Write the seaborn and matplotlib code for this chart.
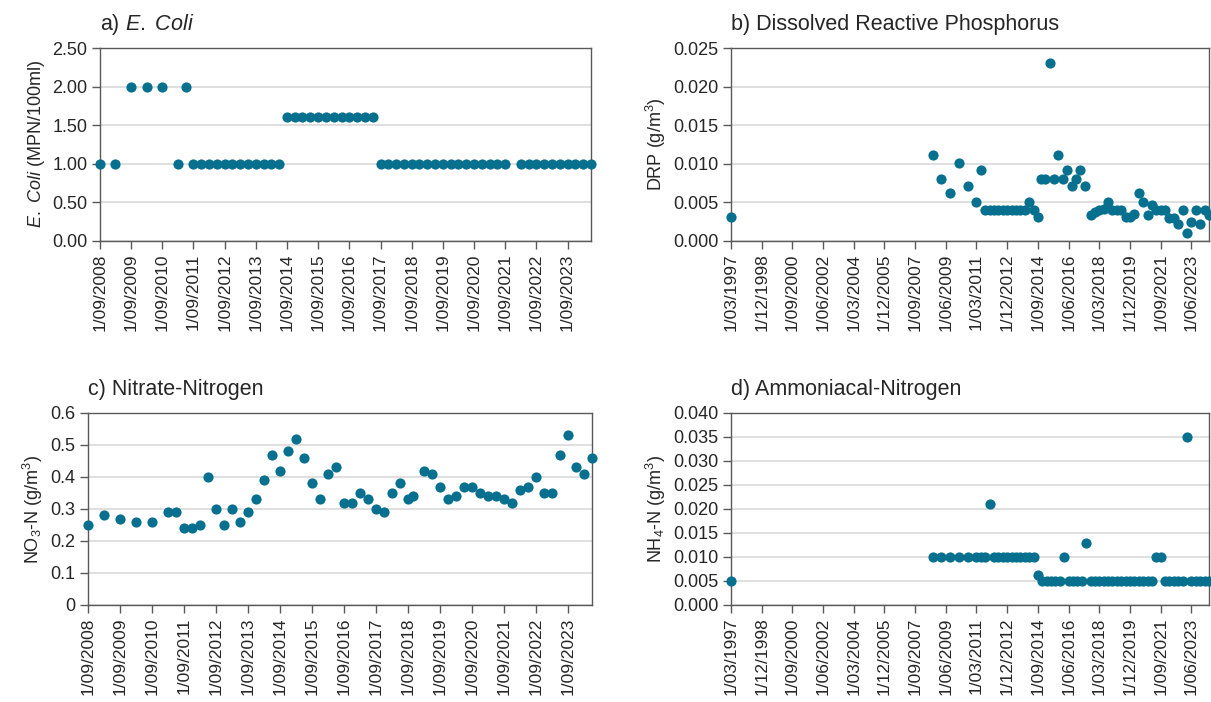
import pandas as pd
import matplotlib
matplotlib.use("Agg")
import matplotlib.pyplot as plt
import matplotlib.dates as mdates
import seaborn as sns

# a) E. coli, quarterly samples
ecoli_dates = [
    "2008-09", "2009-03", "2009-09", "2010-03", "2010-09", "2011-03", "2011-06",
    "2011-09", "2011-12", "2012-03", "2012-06", "2012-09", "2012-12",
    "2013-03", "2013-06", "2013-09", "2013-12", "2014-03", "2014-06",
    "2014-09", "2014-12", "2015-03", "2015-06", "2015-09", "2015-12",
    "2016-03", "2016-06", "2016-09", "2016-12", "2017-03", "2017-06",
    "2017-09", "2017-12", "2018-03", "2018-06", "2018-09", "2018-12",
    "2019-03", "2019-06", "2019-09", "2019-12", "2020-03", "2020-06",
    "2020-09", "2020-12", "2021-03", "2021-06", "2021-09",
    "2022-03", "2022-06", "2022-09", "2022-12", "2023-03", "2023-06",
    "2023-09", "2023-12", "2024-03", "2024-06",
]
ecoli_vals = [
    1.0, 1.0, 2.0, 2.0, 2.0, 1.0, 2.0,
    1.0, 1.0, 1.0, 1.0, 1.0, 1.0,
    1.0, 1.0, 1.0, 1.0, 1.0, 1.0,
    1.61, 1.61, 1.61, 1.61, 1.61, 1.61,
    1.61, 1.61, 1.61, 1.61, 1.61, 1.61,
    1.0, 1.0, 1.0, 1.0, 1.0, 1.0,
    1.0, 1.0, 1.0, 1.0, 1.0, 1.0,
    1.0, 1.0, 1.0, 1.0, 1.0,
    1.0, 1.0, 1.0, 1.0, 1.0, 1.0,
    1.0, 1.0, 1.0, 1.0,
]

# b) dissolved reactive phosphorus
drp_dates = [
    "1997-03", "2008-09", "2009-03", "2009-09", "2010-03", "2010-09", "2011-03", "2011-06",
    "2011-09", "2011-12", "2012-03", "2012-06", "2012-09", "2012-12",
    "2013-03", "2013-06", "2013-09", "2013-12", "2014-03", "2014-06", "2014-09",
    "2014-11", "2015-02", "2015-05", "2015-08", "2015-11", "2016-02",
    "2016-05", "2016-08", "2016-11", "2017-02", "2017-05",
    "2017-09", "2017-12", "2018-03", "2018-06", "2018-09", "2018-12",
    "2019-03", "2019-06", "2019-09", "2019-12", "2020-03", "2020-06",
    "2020-09", "2020-12", "2021-03", "2021-06", "2021-09", "2021-12",
    "2022-03", "2022-06", "2022-09", "2022-12", "2023-03", "2023-06",
    "2023-09", "2023-12", "2024-03", "2024-06",
]
drp_vals = [
    0.0031, 0.0111, 0.0080, 0.0062, 0.0101, 0.0071, 0.0051, 0.0092,
    0.0040, 0.0040, 0.0040, 0.0040, 0.0040, 0.0040,
    0.0040, 0.0040, 0.0040, 0.0040, 0.0051, 0.0040, 0.0031,
    0.0080, 0.0080, 0.0231, 0.0080, 0.0111, 0.0080,
    0.0092, 0.0071, 0.0080, 0.0092, 0.0071,
    0.0034, 0.0037, 0.0040, 0.0042, 0.0051, 0.0040,
    0.0040, 0.0040, 0.0031, 0.0031, 0.0035, 0.0062,
    0.0051, 0.0034, 0.0047, 0.0040, 0.0040, 0.0040,
    0.0030, 0.0030, 0.0022, 0.0040, 0.0011, 0.0025,
    0.0040, 0.0022, 0.0040, 0.0034,
]

# c) nitrate-nitrogen
no3_dates = [
    "2008-09", "2009-03", "2009-09", "2010-03", "2010-09", "2011-03", "2011-06",
    "2011-09", "2011-12", "2012-03", "2012-06", "2012-09", "2012-12",
    "2013-03", "2013-06", "2013-09", "2013-12", "2014-03", "2014-06",
    "2014-09", "2014-12", "2015-03", "2015-06", "2015-09", "2015-12",
    "2016-03", "2016-06", "2016-09", "2016-12", "2017-03", "2017-06",
    "2017-09", "2017-12", "2018-03", "2018-06", "2018-09", "2018-11",
    "2019-03", "2019-06", "2019-09", "2019-12", "2020-03", "2020-06",
    "2020-09", "2020-12", "2021-03", "2021-06", "2021-09", "2021-12",
    "2022-03", "2022-06", "2022-09", "2022-12", "2023-03", "2023-06",
    "2023-09", "2023-12", "2024-03", "2024-06",
]
no3_vals = [
    0.25, 0.28, 0.27, 0.26, 0.26, 0.29, 0.29,
    0.24, 0.24, 0.25, 0.40, 0.30, 0.25,
    0.30, 0.26, 0.29, 0.33, 0.39, 0.47,
    0.42, 0.48, 0.52, 0.46, 0.38, 0.33,
    0.41, 0.43, 0.32, 0.32, 0.35, 0.33,
    0.30, 0.29, 0.35, 0.38, 0.33, 0.34,
    0.42, 0.41, 0.37, 0.33, 0.34, 0.37,
    0.37, 0.35, 0.34, 0.34, 0.33, 0.32,
    0.36, 0.37, 0.40, 0.35, 0.35, 0.47,
    0.53, 0.43, 0.41, 0.46,
]

# d) ammoniacal-nitrogen
nh4_dates = [
    "1997-03", "2008-09", "2009-03", "2009-09", "2010-03", "2010-09", "2011-03", "2011-06",
    "2011-09", "2011-12", "2012-03", "2012-06", "2012-09", "2012-12",
    "2013-03", "2013-06", "2013-09", "2013-12", "2014-03", "2014-06", "2014-09",
    "2014-12", "2015-03", "2015-06", "2015-09", "2015-12", "2016-03",
    "2016-06", "2016-09", "2016-12", "2017-03", "2017-06", "2017-09",
    "2017-12", "2018-03", "2018-06", "2018-09", "2018-12", "2019-03",
    "2019-06", "2019-09", "2019-12", "2020-03", "2020-06", "2020-09",
    "2020-12", "2021-03", "2021-06", "2021-09", "2021-12", "2022-03",
    "2022-06", "2022-09", "2022-12", "2023-03", "2023-06", "2023-09",
    "2023-12", "2024-03", "2024-06",
]
nh4_vals = [
    0.005, 0.010, 0.010, 0.010, 0.010, 0.010, 0.010, 0.010,
    0.010, 0.021, 0.010, 0.010, 0.010, 0.010,
    0.010, 0.010, 0.010, 0.010, 0.010, 0.010, 0.0062,
    0.005, 0.005, 0.005, 0.005, 0.005, 0.010,
    0.005, 0.005, 0.005, 0.005, 0.013, 0.005,
    0.005, 0.005, 0.005, 0.005, 0.005, 0.005,
    0.005, 0.005, 0.005, 0.005, 0.005, 0.005,
    0.005, 0.005, 0.010, 0.010, 0.005, 0.005,
    0.005, 0.005, 0.005, 0.035, 0.005, 0.005,
    0.005, 0.005, 0.005,
]

long_ticks = [
    "1997-03", "1998-12", "2000-09", "2002-06", "2004-03", "2005-12", "2007-09", "2009-06",
    "2011-03", "2012-12", "2014-09", "2016-06", "2018-03", "2019-12", "2021-09", "2023-06",
]

teal = "#07708E"

sns.set_theme(style="white")
plt.rcParams["font.family"] = ["Liberation Sans", "DejaVu Sans"]
plt.rcParams["mathtext.fontset"] = "custom"
plt.rcParams["mathtext.rm"] = "Liberation Sans"
plt.rcParams["mathtext.it"] = "Liberation Sans:italic"

fig = plt.figure(figsize=(12.11, 7.02), dpi=100)
ax_a = fig.add_axes([0.0826, 0.6567, 0.4054, 0.2749])
ax_b = fig.add_axes([0.6036, 0.6567, 0.3947, 0.2749])
ax_c = fig.add_axes([0.0727, 0.1382, 0.4162, 0.2735])
ax_d = fig.add_axes([0.6036, 0.1382, 0.3947, 0.2735])

panels = [
    (ax_a, ecoli_dates, ecoli_vals, r"a) $\mathit{E.}$ $\mathit{Coli}$", r"$\mathit{E.}$ $\mathit{Coli}$ (MPN/100ml)", 2.5, 0.5, "{:.2f}"),
    (ax_b, drp_dates, drp_vals, "b) Dissolved Reactive Phosphorus", r"DRP (g/m$^3$)", 0.025, 0.005, "{:.3f}"),
    (ax_c, no3_dates, no3_vals, "c) Nitrate-Nitrogen", r"NO$_3$-N (g/m$^3$)", 0.6, 0.1, "{:g}"),
    (ax_d, nh4_dates, nh4_vals, "d) Ammoniacal-Nitrogen", r"NH$_4$-N (g/m$^3$)", 0.040, 0.005, "{:.3f}"),
]

for ax, dates, vals, title, ylab, ymax, step, fmt in panels:
    df = pd.DataFrame({"date": pd.to_datetime(dates), "value": vals})
    sns.scatterplot(data=df, x="date", y="value", ax=ax, color=teal, s=54,
                    linewidth=0, clip_on=False, zorder=3)
    ax.set_xlim(df["date"].min(), df["date"].max())
    nt = int(round(ymax / step))
    yt = [i * step for i in range(nt + 1)]
    ax.set_ylim(0, ymax)
    ax.set_yticks(yt)
    ax.set_yticklabels([fmt.format(v) for v in yt], fontsize=13)
    ax.yaxis.grid(True, color="#D9D9D9", linewidth=1.2)
    ax.set_axisbelow(True)
    for sp in ax.spines.values():
        sp.set_color("#595959")
        sp.set_linewidth(1.0)
    ax.tick_params(axis="both", which="major", length=6, width=1, color="#595959",
                   direction="out", bottom=True, left=True, pad=3)
    ax.set_xlabel("")
    ax.set_ylabel(ylab, fontsize=13, labelpad=4)
    ax.set_title(title, loc="left", fontsize=15.5, pad=13)

for ax in (ax_a, ax_c):
    ax.xaxis.set_major_locator(mdates.YearLocator(base=1, month=9, day=1))
for ax in (ax_b, ax_d):
    ax.set_xticks(pd.to_datetime(long_ticks))
for ax in (ax_a, ax_b, ax_c, ax_d):
    ax.xaxis.set_major_formatter(mdates.DateFormatter("%-d/%m/%Y"))
    for lab in ax.get_xticklabels():
        lab.set_rotation(90)
        lab.set_fontsize(12.5)

fig.savefig("out.png", dpi=100)
